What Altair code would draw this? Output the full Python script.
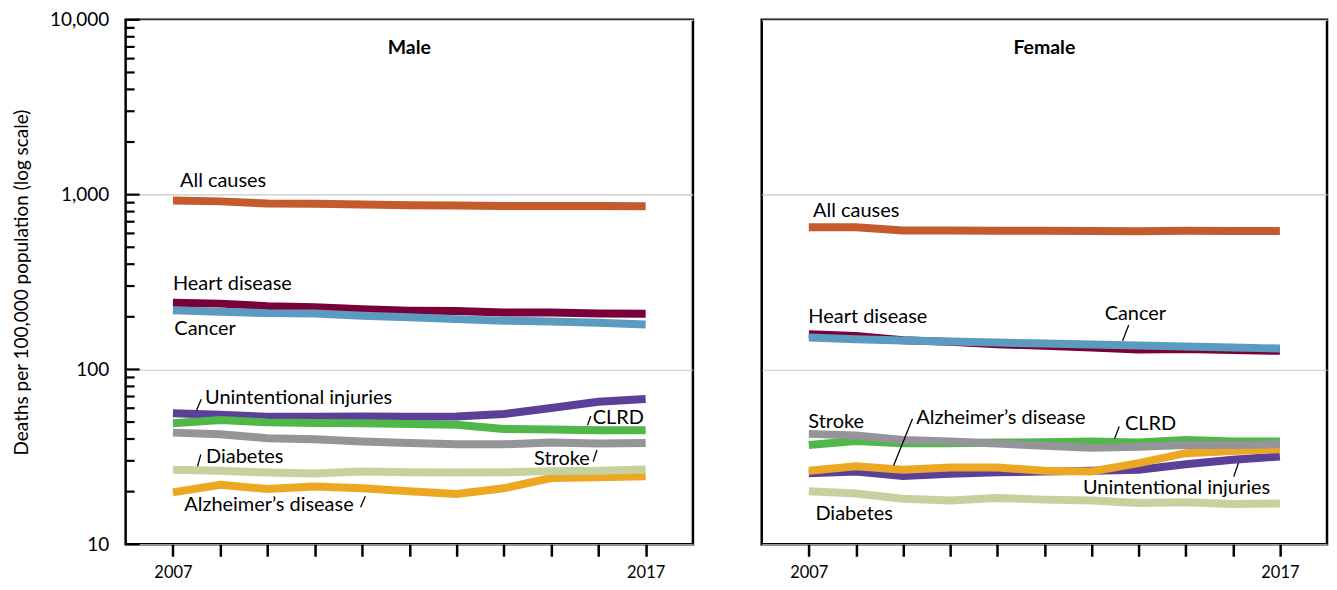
import altair as alt
import pandas as pd

FONT = "Lato"

years = list(range(2007, 2018))
causes = ["Heart disease", "Cancer", "All causes", "Unintentional injuries",
          "Alzheimer’s disease", "CLRD", "Stroke", "Diabetes"]
colors = ["#7a0039", "#5b9bbf", "#c55a2c", "#5c3f98",
          "#eca823", "#4fb848", "#939598", "#c5d19f"]

# Male age-adjusted death rates per 100,000
male_heart = [241, 238, 230, 227, 221, 217, 216, 212, 212, 209, 208]
male_cancer = [218, 214, 210, 209, 203, 199, 194, 190, 188, 185, 181]
male_all = [925, 915, 889, 886, 878, 870, 866, 862, 861, 860, 858]
male_unint = [56.1, 55.0, 53.6, 53.7, 53.8, 53.7, 53.8, 55.6, 60.2, 65.4, 67.8]
male_alz = [19.8, 21.9, 20.7, 21.4, 20.9, 20.1, 19.4, 20.9, 23.9, 24.2, 24.5]
male_clrd = [49.2, 51.4, 49.8, 49.4, 49.2, 48.8, 48.2, 45.7, 45.3, 44.9, 44.9]
male_stroke = [43.5, 42.6, 40.4, 39.9, 38.7, 38.0, 37.3, 37.3, 38.2, 37.7, 38.0]
male_diab = [26.7, 26.3, 25.7, 25.4, 26.1, 25.8, 25.7, 25.8, 26.2, 26.3, 26.8]

# Female age-adjusted death rates per 100,000
female_heart = [159.1, 155.6, 147.1, 143.8, 139.5, 136.5, 133.5, 130.0, 130.7, 129.0, 127.8]
female_cancer = [152.1, 149.0, 146.3, 144.4, 142.5, 140.6, 138.8, 137.0, 135.2, 133.5, 131.7]
female_all = [651, 651, 624, 624, 622, 621, 620, 617, 621, 620, 620]
female_unint = [25.5, 26.1, 24.6, 25.3, 25.8, 26.1, 26.3, 26.7, 28.7, 30.4, 31.8]
female_alz = [26.3, 27.9, 26.7, 27.5, 27.5, 26.3, 26.1, 29.1, 33.2, 34.2, 35.0]
female_clrd = [37.0, 39.0, 37.8, 37.8, 38.2, 38.3, 38.7, 38.2, 39.5, 38.7, 38.7]
female_stroke = [42.8, 41.9, 39.5, 38.7, 37.7, 36.6, 35.7, 36.1, 37.0, 37.0, 37.3]
female_diab = [20.1, 19.5, 18.2, 17.8, 18.4, 18.0, 17.8, 17.2, 17.4, 17.0, 17.1]

male_series = [male_heart, male_cancer, male_all, male_unint,
               male_alz, male_clrd, male_stroke, male_diab]
female_series = [female_heart, female_cancer, female_all, female_unint,
                 female_alz, female_clrd, female_stroke, female_diab]

# Series labels (text, year position, value position)
male_label_text = ["All causes", "Heart disease", "Cancer", "Unintentional injuries",
                   "CLRD", "Stroke", "Diabetes", "Alzheimer’s disease"]
male_label_year = [2007.15, 2007.0, 2007.03, 2007.68, 2015.88, 2014.64, 2007.70, 2007.24]
male_label_value = [1192, 308, 170.6, 68.9, 53.0, 30.9, 31.4, 16.7]

female_label_text = ["All causes", "Heart disease", "Cancer", "Stroke",
                     "Alzheimer’s disease", "CLRD", "Unintentional injuries", "Diabetes"]
female_label_year = [2007.09, 2006.99, 2013.28, 2006.99, 2009.28, 2013.71, 2012.82, 2007.14]
female_label_value = [803, 199.7, 207.7, 50.3, 52.5, 48.5, 20.9, 14.8]

# Leader lines (year1, value1, year2, value2)
male_leader_year1 = [2007.50, 2015.77, 2015.89, 2007.52, 2010.97]
male_leader_value1 = [58.5, 48.0, 29.7, 27.9, 16.3]
male_leader_year2 = [2007.60, 2015.84, 2015.97, 2007.59, 2011.07]
male_leader_value2 = [67.6, 54.1, 34.6, 32.6, 18.8]

female_leader_year1 = [2013.66, 2008.80, 2013.49, 2016.02]
female_leader_value1 = [145.7, 28.2, 40.2, 24.4]
female_leader_year2 = [2013.79, 2009.20, 2013.59, 2016.12]
female_leader_value2 = [179.8, 52.3, 47.1, 29.1]

y_major = [10, 100, 1000, 10000]
y_minor = [20, 30, 40, 50, 60, 70, 80, 90,
           200, 300, 400, 500, 600, 700, 800, 900,
           2000, 3000, 4000, 5000, 6000, 7000, 8000, 9000]

H = 526
yscale = alt.Scale(type="log", domain=[10, 10000], nice=False)
xscale = alt.Scale(domain=[2006, 2018], nice=False)


def panel(title, series, ltext, lyear, lval, ly1, lv1, ly2, lv2, width, show_y):
    yaxis = alt.Axis(
        values=y_major, format=",", grid=True, gridColor="#c8c8c8", gridWidth=1.2,
        domain=False, ticks=False, labels=show_y, labelFont=FONT, labelFontSize=19,
        labelColor="black", labelPadding=17,
        title="Deaths per 100,000 population (log scale)" if show_y else None,
        titleFont=FONT, titleFontSize=19, titleFontWeight="normal", titleColor="black",
        titlePadding=18,
    )
    xaxis = alt.Axis(
        values=years, format="d",
        labelExpr="datum.value == 2007 || datum.value == 2017 ? datum.label : ''",
        tickSize=12, tickWidth=2.5, tickColor="black", domain=False, grid=False,
        labelPadding=8, labelFont=FONT, labelFontSize=16.5, labelColor="black",
        title=None,
    )
    layers = []
    for i, (cause, vals) in enumerate(zip(causes, series)):
        d = pd.DataFrame({"year": years, "value": vals})
        if i == 0:
            enc = dict(x=alt.X("year:Q", scale=xscale, axis=xaxis),
                       y=alt.Y("value:Q", scale=yscale, axis=yaxis))
        else:
            enc = dict(x=alt.X("year:Q", scale=xscale),
                       y=alt.Y("value:Q", scale=yscale))
        layers.append(alt.Chart(d).mark_line(strokeWidth=8, color=colors[i]).encode(**enc))

    lab = pd.DataFrame({"year": lyear, "value": lval, "text": ltext})
    layers.append(alt.Chart(lab).mark_text(
        align="left", baseline="middle", font=FONT, fontSize=20, color="black"
    ).encode(x=alt.X("year:Q", scale=xscale), y=alt.Y("value:Q", scale=yscale), text="text:N"))

    lead = pd.DataFrame({"year": ly1, "value": lv1, "year2": ly2, "value2": lv2})
    layers.append(alt.Chart(lead).mark_rule(color="black", strokeWidth=1.3).encode(
        x=alt.X("year:Q", scale=xscale), y=alt.Y("value:Q", scale=yscale),
        x2="year2:Q", y2="value2:Q"))

    if show_y:
        minor = pd.DataFrame({"value": y_minor})
        major = pd.DataFrame({"value": y_major})
        layers.append(alt.Chart(minor).mark_rule(color="black", strokeWidth=2.2).encode(
            y=alt.Y("value:Q", scale=yscale), x=alt.value(0), x2=alt.value(9)))
        layers.append(alt.Chart(major).mark_rule(color="black", strokeWidth=2.2).encode(
            y=alt.Y("value:Q", scale=yscale), x=alt.value(0), x2=alt.value(14)))

    ttl = pd.DataFrame({"text": [title]})
    layers.append(alt.Chart(ttl).mark_text(
        font=FONT, fontSize=19.5, fontWeight="bold", color="black", baseline="middle"
    ).encode(x=alt.value(width / 2), y=alt.value(28), text="text:N"))

    return alt.layer(*layers).properties(width=width, height=H)


left = panel("Male", male_series, male_label_text, male_label_year, male_label_value,
             male_leader_year1, male_leader_value1, male_leader_year2, male_leader_value2,
             569, True)
right = panel("Female", female_series, female_label_text, female_label_year, female_label_value,
              female_leader_year1, female_leader_value1, female_leader_year2, female_leader_value2,
              567, False)

chart = alt.hconcat(left, right, spacing=65).properties(
    padding={"left": 3, "top": 0, "right": 0, "bottom": 0},
    background="white",
).configure_view(stroke="black", strokeWidth=2.5)

chart.save("out.html", embed_options={"renderer": "svg", "actions": False})
